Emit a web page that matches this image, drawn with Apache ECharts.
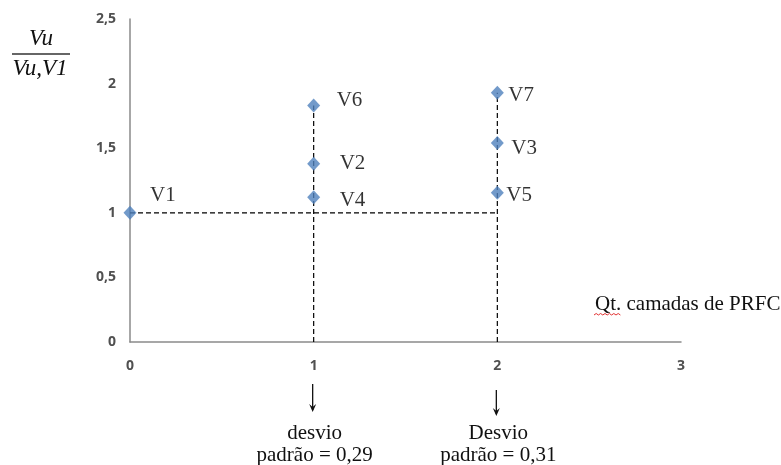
<!DOCTYPE html>
<html><head><meta charset="utf-8">
<script src="https://cdn.jsdelivr.net/npm/echarts@6/dist/echarts.min.js"></script>
<style>html,body{margin:0;padding:0;background:#fff}#c{width:781px;height:465px}</style>
</head><body><div id="c"></div>
<script>
const pointNames = ['V1','V2','V3','V4','V5','V6','V7'];
const pointX = [0, 1, 2, 1, 2, 1, 2];
const pointY = [1.0, 1.38, 1.54, 1.12, 1.155, 1.83, 1.93];
const yTickLabels = ['0','0,5','1','1,5','2','2,5'];
const xTickLabels = ['0','1','2','3'];
const refLineH = [[0,1],[2,1]];
const refLineV1 = [[1,0],[1,1.83]];
const refLineV2 = [[2,0],[2,1.93]];
const notes = [
  {x:1, lines:['desvio','padrão = 0,29']},
  {x:2, lines:['Desvio','padrão = 0,31']}
];
const labelOffsets = {V1:[20,-17],V2:[26,0],V3:[14,5],V4:[26,3],V5:[9,3],V6:[23,-5],V7:[11,3]};

const chart = echarts.init(document.getElementById('c'));
const dashStyle = {color:'#000', width:1.2, type:[5,3]};
const tickFont = {fontFamily:'Open Sans', fontSize:14, fontWeight:'bold', color:'#505050'};
const serif = '"Liberation Serif", "Times New Roman", serif';
chart.setOption({
  animation:false,
  grid:{left:130, right:100, top:19, bottom:123, containLabel:false},
  xAxis:{type:'value', min:0, max:3, interval:1,
    axisLine:{lineStyle:{color:'#8a8a8a', width:1.5}}, axisTick:{show:false}, splitLine:{show:false},
    axisLabel:Object.assign({margin:17, formatter:v=>xTickLabels[Math.round(v)]}, tickFont)},
  yAxis:{type:'value', min:0, max:2.5, interval:0.5,
    axisLine:{show:true, lineStyle:{color:'#8a8a8a', width:1.5}}, axisTick:{show:false}, splitLine:{show:false},
    axisLabel:Object.assign({margin:14, formatter:v=>yTickLabels[Math.round(v*2)]}, tickFont)},
  series:[
    {type:'line', data:refLineH, symbol:'none', lineStyle:dashStyle, z:1},
    {type:'line', data:refLineV1, symbol:'none', lineStyle:dashStyle, z:1},
    {type:'line', data:refLineV2, symbol:'none', lineStyle:dashStyle, z:1},
    {type:'scatter', symbol:'diamond', symbolSize:[13,14], itemStyle:{color:'#4F81BD'}, z:3,
     data:pointNames.map((n,i)=>({value:[pointX[i],pointY[i]], name:n,
       label:{show:true, formatter:n, position:'inside', offset:labelOffsets[n], align:'left',
         fontFamily:serif, fontSize:21, color:'#000'}}))}
  ]
});

const g = [];
const f21 = '21px ' + serif;
// y-axis title fraction
g.push({type:'text', x:41, y:39, style:{text:'Vu', font:'italic 23px ' + serif, fill:'#111', align:'center', verticalAlign:'middle'}});
g.push({type:'line', shape:{x1:12,y1:54,x2:70,y2:54}, style:{stroke:'#333', lineWidth:1.3}});
g.push({type:'text', x:40, y:69, style:{text:'Vu,V1', font:'italic 23px ' + serif, fill:'#111', align:'center', verticalAlign:'middle'}});
// x axis title
g.push({type:'text', x:595, y:304, style:{text:'Qt. camadas de PRFC', font:f21, fill:'#111', verticalAlign:'middle'}});
const wave = [];
for (let i=0;i<=12;i++) wave.push([594+i*2.2, 315 + (i%2?-1.5:0)]);
g.push({type:'polyline', shape:{points:wave}, style:{stroke:'#e03030', lineWidth:1, fill:null}});
const arrowY = [[384,412],[390,416]];
notes.forEach((nt,k)=>{
  const p = chart.convertToPixel({xAxisIndex:0,yAxisIndex:0},[nt.x,0]);
  const x = p[0] - 1, y1 = arrowY[k][0], y2 = arrowY[k][1];
  g.push({type:'line', shape:{x1:x,y1:y1,x2:x,y2:y2-2}, style:{stroke:'#111', lineWidth:1.3}});
  g.push({type:'polygon', shape:{points:[[x-3.5,y2-8],[x,y2],[x+3.5,y2-8],[x,y2-5]]}, style:{fill:'#111'}});
  g.push({type:'text', x:x+2, y:433, style:{text:nt.lines[0], font:f21, fill:'#111', align:'center', verticalAlign:'middle'}});
  g.push({type:'text', x:x+2, y:455, style:{text:nt.lines[1], font:f21, fill:'#111', align:'center', verticalAlign:'middle'}});
});
chart.setOption({graphic:g});
</script></body></html>
